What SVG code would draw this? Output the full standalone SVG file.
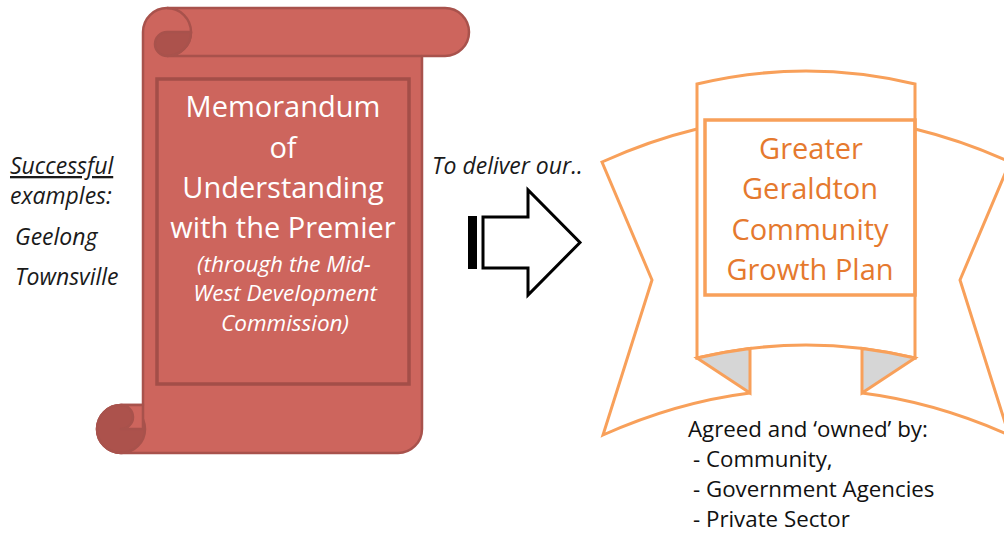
<svg xmlns="http://www.w3.org/2000/svg" width="1004" height="537" viewBox="0 0 1004 537">
  <style>
    .scroll-body { fill: #CD655D; stroke: #A8524C; stroke-width: 2.5; stroke-linejoin: round; }
    .scroll-dark { fill: #AC524C; stroke: #A8524C; stroke-width: 2.5; stroke-linejoin: round; }
    .scroll-line { fill: none; stroke: #A8524C; stroke-width: 2.5; }
    .scroll-frame { fill: none; stroke: #A34E48; stroke-width: 3.5; }
    .scroll-title { font-family: "Open Sans", "Liberation Sans", sans-serif; font-size: 29px; fill: #FFFFFF; text-anchor: middle; }
    .scroll-sub { font-family: "Open Sans", "Liberation Sans", sans-serif; font-size: 22.5px; font-style: italic; fill: #FFFFFF; text-anchor: middle; }
    .rib { fill: #FFFFFF; stroke: #F8A05A; stroke-width: 3; stroke-linejoin: miter; }
    .fold { fill: #D6D6D6; stroke: #F8A05A; stroke-width: 3; stroke-linejoin: miter; }
    .rib-frame { fill: none; stroke: #F8A05A; stroke-width: 3.5; }
    .rib-title { font-family: "Open Sans", "Liberation Sans", sans-serif; font-size: 29px; fill: #E5792E; text-anchor: middle; }
    .note { font-family: "Open Sans", "Liberation Sans", sans-serif; font-size: 23px; font-style: italic; fill: #1A1A1A; }
    .owners { font-family: "Open Sans", "Liberation Sans", sans-serif; font-size: 22.3px; fill: #111111; }
    .arrow { fill: #FFFFFF; stroke: #000000; stroke-width: 3; stroke-linejoin: miter; }
  </style>

  <!-- Left-hand notes -->
  <g id="examples">
    <text class="note" x="10" y="174" text-decoration="underline">Successful</text>
    <text class="note" x="10" y="204">examples:</text>
    <text class="note" x="15" y="245">Geelong</text>
    <text class="note" x="15" y="285">Townsville</text>
  </g>

  <!-- Scroll: Memorandum of Understanding -->
  <g id="mou-scroll">
    <path class="scroll-body" d="M 167 8 H 445 A 24 24 0 0 1 445 56 H 422 V 429 A 24 24 0 0 1 398 453 H 121 A 24 24 0 0 1 121 405 H 143 V 32 A 24 24 0 0 1 167 8 Z"/>
    <!-- top curl -->
    <path class="scroll-line" d="M 167 8 A 24 24 0 0 1 167 56 H 422"/>
    <path class="scroll-dark" d="M 191 32 H 167 A 12 12 0 0 0 167 56 A 24 24 0 0 0 191 32 Z"/>
    <!-- bottom curl -->
    <circle class="scroll-dark" cx="121" cy="429" r="24"/>
    <path class="scroll-body" d="M 143 405 H 121 A 12 12 0 0 1 121 429 H 143 Z"/>
    <rect class="scroll-frame" x="157" y="79" width="252" height="305"/>
    <text class="scroll-title" x="283" y="117">Memorandum</text>
    <text class="scroll-title" x="283" y="158">of</text>
    <text class="scroll-title" x="283" y="198">Understanding</text>
    <text class="scroll-title" x="283" y="238">with the Premier</text>
    <text class="scroll-sub" x="284" y="272">(through the Mid-</text>
    <text class="scroll-sub" x="285" y="301">West Development</text>
    <text class="scroll-sub" x="285" y="331">Commission)</text>
  </g>

  <!-- Label above the arrow -->
  <g id="deliver-label">
    <text class="note" x="432" y="174">To deliver our..</text>
  </g>

  <!-- Connectors -->
  <g id="connectors">
    <rect x="468" y="216" width="9" height="53" fill="#000000"/>
    <polygon class="arrow" points="483,217 528,217 528,190 580,242.5 528,295 528,268 483,268"/>
  </g>

  <!-- Ribbon: Community Growth Plan -->
  <g id="growth-plan-ribbon">
    <path class="rib" d="M 697 129 Q 649.5 140.5 602 162 L 652 280 L 603 435 Q 676.5 402.2 750 393"/>
    <path class="rib" d="M 915 129 Q 962.5 140.5 1010 162 L 960 280 L 1009 435 Q 935.5 402.2 862 393"/>
    <path class="rib" d="M 697 84 Q 806 58 915 84 L 915 358 Q 806 332 697 358 Z"/>
    <path class="fold" d="M 697 358 L 750 393 L 750 348.4 Q 723.5 351.7 697 358 Z"/>
    <path class="fold" d="M 915 358 L 862 393 L 862 348.4 Q 888.5 351.7 915 358 Z"/>
    <rect class="rib-frame" x="705" y="120" width="210" height="175"/>
    <text class="rib-title" x="811" y="159">Greater</text>
    <text class="rib-title" x="810" y="199">Geraldton</text>
    <text class="rib-title" x="810" y="240">Community</text>
    <text class="rib-title" x="810" y="280">Growth Plan</text>
  </g>

  <!-- Ownership list -->
  <g id="owners">
    <text class="owners" x="688" y="437">Agreed and ‘owned’ by:</text>
    <text class="owners" x="693" y="467">- Community,</text>
    <text class="owners" x="693" y="497">- Government Agencies</text>
    <text class="owners" x="693" y="527">- Private Sector</text>
  </g>
</svg>
